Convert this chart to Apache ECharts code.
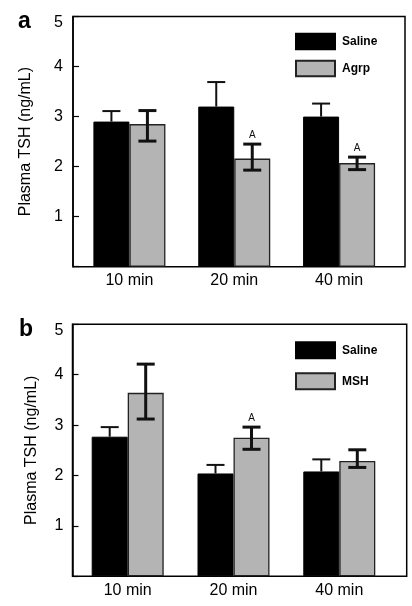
<!DOCTYPE html>
<html>
<head>
<meta charset="utf-8">
<script src="https://cdn.jsdelivr.net/npm/echarts@6/dist/echarts.min.js"></script>
<style>html,body{margin:0;padding:0;background:#fff}#c{width:412px;height:606px}</style>
</head>
<body>
<div id="c"></div>
<script>
// Data
var categories = ['10 min', '20 min', '40 min'];
var yTicks = [0, 1, 2, 3, 4, 5];

// Panel a
var salineA = [2.90, 3.20, 3.00];
var salineHiA = [3.11, 3.69, 3.26];
var agrpA = [2.85, 2.16, 2.07];
var agrpHiA = [3.12, 2.45, 2.19];
var agrpLoA = [2.51, 1.93, 1.94];
var sigA = ['', 'A', 'A'];

// Panel b
var salineB = [2.77, 2.04, 2.08];
var salineHiB = [2.96, 2.21, 2.32];
var mshB = [3.64, 2.75, 2.29];
var mshHiB = [4.21, 2.96, 2.51];
var mshLoB = [3.12, 2.52, 2.16];
var sigB = ['', 'A', ''];

var FONT = "'Liberation Sans', Arial, Helvetica, sans-serif";
var BAR_W = 36;
var GRAY = '#b4b4b4';

function errSeries(axisIdx, hi, lo, side, lw, lowerCap, sig) {
  var data = hi.map(function (h, i) { return [i, h, lo[i]]; });
  return {
    type: 'custom',
    xAxisIndex: axisIdx, yAxisIndex: axisIdx,
    z: 5, silent: true,
    data: data,
    renderItem: function (params, api) {
      var c = api.value(0);
      var pH = api.coord([c, api.value(1)]);
      var pL = api.coord([c, api.value(2)]);
      var x = pH[0] + side * BAR_W / 2;
      var cap = 9;
      var st = { stroke: '#111', lineWidth: lw };
      var ch = [
        { type: 'line', shape: { x1: x, y1: pH[1], x2: x, y2: pL[1] }, style: st },
        { type: 'line', shape: { x1: x - cap, y1: pH[1], x2: x + cap, y2: pH[1] }, style: st }
      ];
      if (lowerCap) {
        ch.push({ type: 'line', shape: { x1: x - cap, y1: pL[1], x2: x + cap, y2: pL[1] }, style: st });
      }
      var s = sig ? sig[params.dataIndex] : '';
      if (s) {
        ch.push({ type: 'text', x: x, y: pH[1] - 9, style: { text: s, fontSize: 10, fontFamily: FONT, fill: '#111', align: 'center', verticalAlign: 'middle' } });
      }
      return { type: 'group', children: ch };
    }
  };
}

function yLabelFmt(v) {
  if (v === 0) return '';
  if (v === 5) return '{t|5}';
  return String(v);
}

var frameGridA = { left: 73, right: 7, top: 16.5, bottom: 339.3, show: true, borderColor: '#000', borderWidth: 1.5, backgroundColor: 'transparent' };
var barsGridA = { left: 77, right: 20.5, top: 16.5, bottom: 339.3 };
var frameGridB = { left: 72.5, right: 5.3, top: 324.3, bottom: 29.7, show: true, borderColor: '#000', borderWidth: 1.5, backgroundColor: 'transparent' };
var barsGridB = { left: 74.8, right: 19.8, top: 324.3, bottom: 29.7 };

function hiddenX(g) { return { gridIndex: g, type: 'value', show: false, min: 0, max: 1 }; }
function hiddenY(g) { return { gridIndex: g, type: 'value', show: false, min: 0, max: 1 }; }
function catX(g) {
  return {
    gridIndex: g, type: 'category', data: categories,
    axisLine: { show: false }, axisTick: { show: false },
    axisLabel: { fontSize: 16, color: '#000', fontFamily: FONT, margin: 6 }
  };
}
function valY(g, offset, nameGap, labelMargin) {
  return {
    gridIndex: g, type: 'value', min: yTicks[0], max: yTicks[yTicks.length - 1], interval: 1,
    offset: offset,
    name: 'Plasma TSH (ng/mL)', nameLocation: 'middle', nameGap: nameGap, nameRotate: 90,
    nameTextStyle: { fontSize: 16, color: '#000', fontFamily: FONT },
    axisLine: { show: true, lineStyle: { color: '#000', width: 1.5 } },
    axisTick: { show: true, inside: true, length: 6, lineStyle: { color: '#000', width: 1.2 } },
    splitLine: { show: false },
    axisLabel: { fontSize: 16, color: '#000', fontFamily: FONT, margin: labelMargin, formatter: yLabelFmt,
      rich: { t: { fontSize: 16, color: '#000', fontFamily: FONT, padding: [12, 0, 0, 0] } } }
  };
}

var option = {
  animation: false,
  backgroundColor: '#fff',
  textStyle: { fontFamily: FONT },
  title: [
    { text: 'a', left: 13, top: 5, textStyle: { fontSize: 23, fontWeight: 'bold', color: '#000', fontFamily: FONT } },
    { text: 'b', left: 14, top: 313, textStyle: { fontSize: 23, fontWeight: 'bold', color: '#000', fontFamily: FONT } }
  ],
  legend: [
    { data: ['Saline', 'Agrp'], orient: 'vertical', left: 290, top: 27.7, itemWidth: 39, itemHeight: 15.6, itemGap: 9.4,
      icon: 'rect', selectedMode: false,
      textStyle: { fontSize: 12, fontWeight: 'bold', color: '#000', fontFamily: FONT, padding: [6, 0, 0, 2] } },
    { data: ['Saline', 'MSH'], orient: 'vertical', left: 290, top: 336.3, itemWidth: 39, itemHeight: 16, itemGap: 13,
      icon: 'rect', selectedMode: false,
      textStyle: { fontSize: 12, fontWeight: 'bold', color: '#000', fontFamily: FONT, padding: [6, 0, 0, 2] } }
  ],
  grid: [frameGridA, barsGridA, frameGridB, barsGridB],
  xAxis: [hiddenX(0), catX(1), hiddenX(2), catX(3)],
  yAxis: [hiddenY(0), valY(1, 4, 39, 10), hiddenY(2), valY(3, 2.3, 33, 9)],
  series: [
    { name: 'Saline', type: 'bar', xAxisIndex: 1, yAxisIndex: 1, data: salineA, barWidth: BAR_W, barGap: '0%',
      itemStyle: { color: '#000', borderColor: '#000', borderWidth: 1 } },
    { name: 'Agrp', type: 'bar', xAxisIndex: 1, yAxisIndex: 1, data: agrpA, barWidth: BAR_W, barGap: '0%',
      itemStyle: { color: GRAY, borderColor: '#222', borderWidth: 1.3 } },
    errSeries(1, salineHiA, salineA, -1, 2, false, null),
    errSeries(1, agrpHiA, agrpLoA, 1, 3, true, sigA),

    { name: 'Saline', type: 'bar', xAxisIndex: 3, yAxisIndex: 3, data: salineB, barWidth: BAR_W, barGap: '0%',
      itemStyle: { color: '#000', borderColor: '#000', borderWidth: 1 } },
    { name: 'MSH', type: 'bar', xAxisIndex: 3, yAxisIndex: 3, data: mshB, barWidth: BAR_W, barGap: '0%',
      itemStyle: { color: GRAY, borderColor: '#222', borderWidth: 1.3 } },
    errSeries(3, salineHiB, salineB, -1, 2, false, null),
    errSeries(3, mshHiB, mshLoB, 1, 3, true, sigB)
  ]
};

var chart = echarts.init(document.getElementById('c'), null, { renderer: 'canvas' });
chart.setOption(option);
</script>
</body>
</html>
